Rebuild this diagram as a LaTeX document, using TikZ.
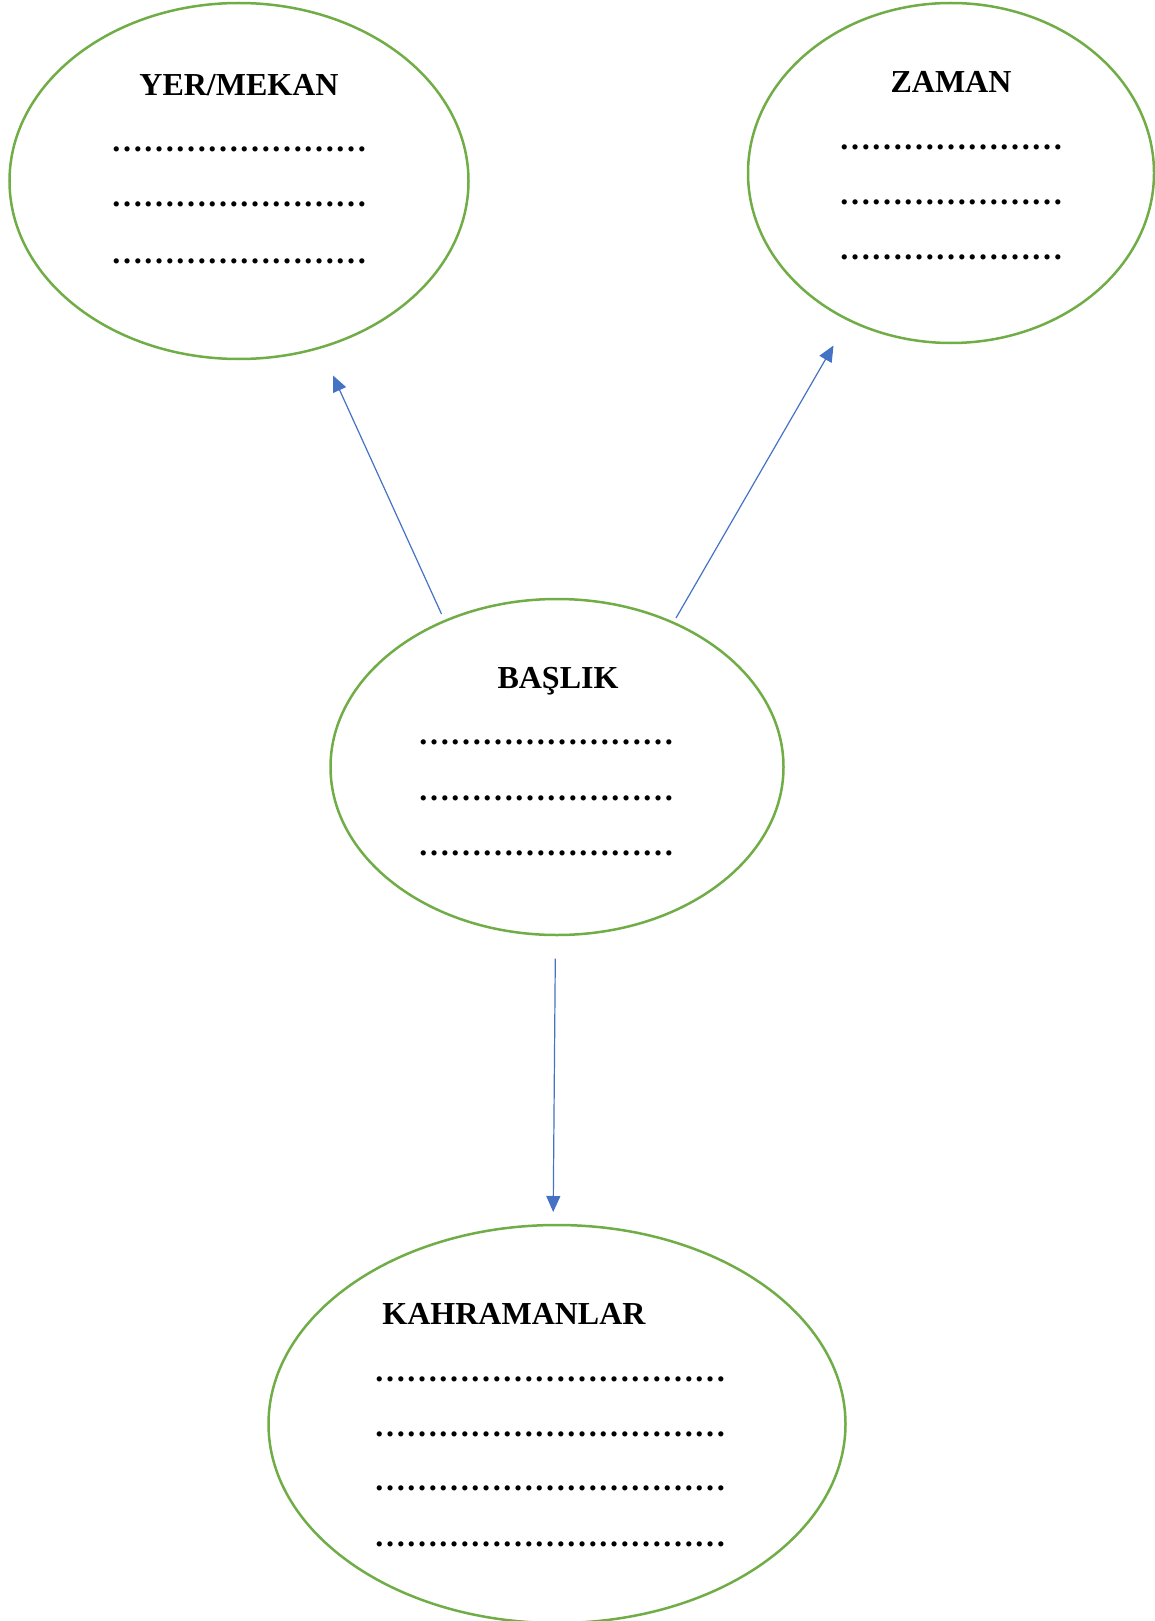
\documentclass[tikz,border=0pt]{standalone}
\usepackage{fontspec}
\setmainfont{Liberation Serif}
\usepackage{tikz}
\usetikzlibrary{arrows.meta,shapes.geometric,positioning}
\definecolor{bubblegreen}{RGB}{112,173,71}
\definecolor{arrowblue}{RGB}{68,114,196}
\tikzset{bubble/.style={ellipse, draw=bubblegreen, line width=2.5pt, inner sep=0pt}}
\tikzset{title/.style={anchor=base, inner sep=0pt, font=\bfseries\fontsize{32}{38}\selectfont}}
\tikzset{dotrow/.style={anchor=base, inner sep=0pt, font=\bfseries\fontsize{32}{38}\selectfont}}
\tikzset{arrow/.style={line width=1.2pt, color=arrowblue, -{Triangle[length=16pt,width=14pt]}}}

\begin{document}
\begin{tikzpicture}[x=1pt, y=-1pt]
    \useasboundingbox (0,0) rectangle (1155,1621);

    % bubbles
    \node[bubble, minimum width=459pt, minimum height=356pt] (yer) at (239,181) {};
    \node[bubble, minimum width=406pt, minimum height=340pt] (zaman) at (951,173) {};
    \node[bubble, minimum width=453pt, minimum height=336pt] (baslik) at (557,767) {};
    \node[bubble, minimum width=577pt, minimum height=398pt] (kahraman) at (557,1424) {};

    % texts
    \node[title] (yerT) at (239,96) {YER/MEKAN};
    \node[dotrow] (yer1) at (239,152) {……………………};
    \node[dotrow] (yer2) at (239,207) {……………………};
    \node[dotrow] (yer3) at (239,263) {……………………};

    \node[title] (zamanT) at (951,93) {ZAMAN};
    \node[dotrow] (zaman1) at (951,150) {…………………};
    \node[dotrow] (zaman2) at (951,205) {…………………};
    \node[dotrow] (zaman3) at (951,260) {…………………};

    \node[title] (baslikT) at (558,688) {BAŞLIK};
    \node[dotrow] (baslik1) at (546,744) {……………………};
    \node[dotrow] (baslik2) at (546,800) {……………………};
    \node[dotrow] (baslik3) at (546,855) {……………………};

    \node[title] (kahramanT) at (514,1324) {KAHRAMANLAR};
    \node[dotrow] (kahraman1) at (550,1381) {……………………………};
    \node[dotrow] (kahraman2) at (550,1436) {……………………………};
    \node[dotrow] (kahraman3) at (550,1490) {……………………………};
    \node[dotrow] (kahraman4) at (550,1546) {……………………………};

    % arrows
    \coordinate (s1) at (441.5,614);
    \coordinate (e1) at (333,375.5);
    \coordinate (s2) at (676,618);
    \coordinate (e2) at (833.5,345.5);
    \coordinate (s3) at (555.3,958.5);
    \coordinate (e3) at (553.2,1212);
    \draw[arrow] (s1) -- (e1);
    \draw[arrow] (s2) -- (e2);
    \draw[arrow] (s3) -- (e3);
\end{tikzpicture}
\end{document}
